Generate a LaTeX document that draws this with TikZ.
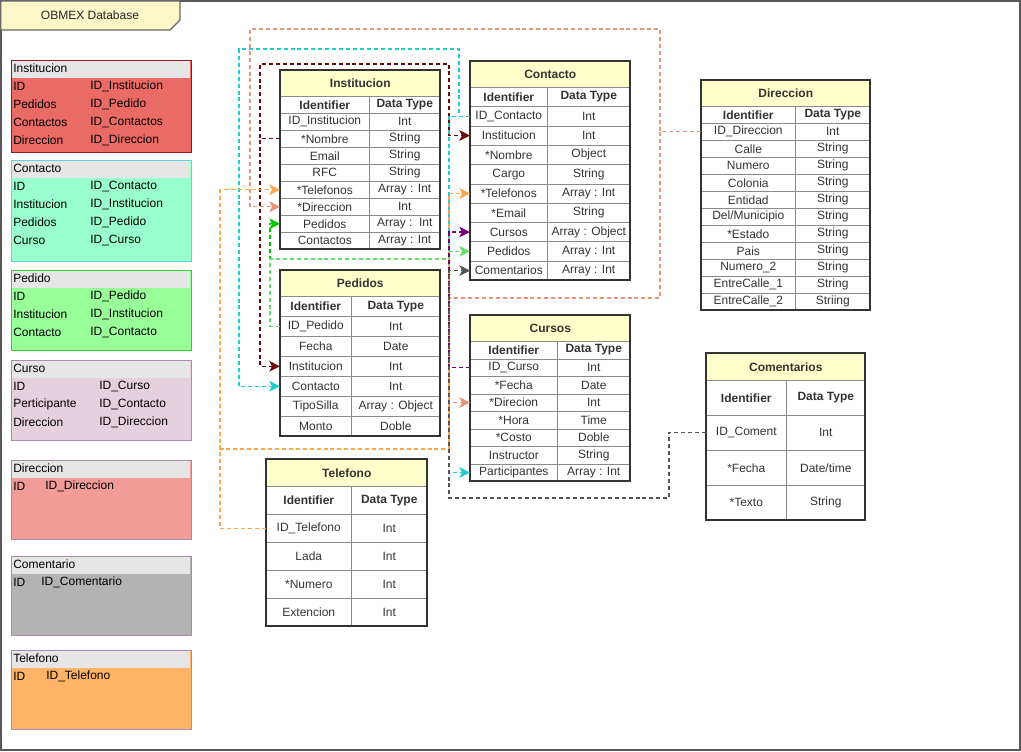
\documentclass[tikz,border=0pt]{standalone}
\usepackage{fontspec}
\setmainfont{Liberation Sans}
\usetikzlibrary{positioning,arrows.meta,calc}

\definecolor{tabtitle}{HTML}{FFFFCC}
\definecolor{tabline}{HTML}{333333}
\definecolor{cellline}{HTML}{8A8A8A}
\definecolor{keybar}{HTML}{E6E6E6}
\definecolor{keyred}{HTML}{EA6B66}
\definecolor{keyredln}{HTML}{8C1C1C}
\definecolor{keymint}{HTML}{99FFCC}
\definecolor{keymintln}{HTML}{5CD6D6}
\definecolor{keygreen}{HTML}{99FF99}
\definecolor{keygreenln}{HTML}{33CC33}
\definecolor{keymauve}{HTML}{E6D0DE}
\definecolor{keypink}{HTML}{F19C99}
\definecolor{keygray}{HTML}{B3B3B3}
\definecolor{keyorange}{HTML}{FFB366}
\definecolor{keypurpleln}{HTML}{A68BB5}
\definecolor{brownln}{HTML}{6A0A0A}
\definecolor{cyanln}{HTML}{22CCCC}
\definecolor{orangeln}{HTML}{FFA64D}
\definecolor{salmonln}{HTML}{E5967A}
\definecolor{greenln}{HTML}{00C800}
\definecolor{lgreenln}{HTML}{66DD66}
\definecolor{purpleln}{HTML}{770077}
\definecolor{grayln}{HTML}{555555}
\definecolor{tabfill}{HTML}{FBF7C9}

\tikzset{
  ertitle/.style={draw=tabline, fill=tabtitle, inner sep=0pt, text=tabline,
    font=\bfseries\fontsize{9}{11}\selectfont},
  ercell/.style={draw=cellline, inner sep=0pt, text=tabline,
    font=\fontsize{9}{11}\selectfont},
  erframe/.style={draw=tabline, line width=1.1pt},
  keytext/.style={anchor=west, inner sep=0pt, text=black,
    font=\fontsize{9}{11}\selectfont},
  link/.style={dash pattern=on 3pt off 2.2pt, line width=1pt},
}

% table: name, x, y, width 1, width 2, title height, row height, title, rows
\newcommand{\ertable}[9]{%
  \node[ertitle, anchor=north west, minimum width={(#4+#5)*0.75pt},
    minimum height={#6*0.75pt}] (#1) at (#2,#3) {#8};
  \foreach \ka/\kb [count=\i] in {#9}{%
    \node[ercell, anchor=north west, minimum width={#4*0.75pt},
      minimum height={#7*0.75pt}] (#1-\i-a) at ({#2},{#3+#6+(\i-1)*#7}) {\ka};
    \node[ercell, anchor=north west, minimum width={#5*0.75pt},
      minimum height={#7*0.75pt}] (#1-\i-b) at ({#2+#4},{#3+#6+(\i-1)*#7}) {\kb};
    \xdef\ernrows{\i}%
  }%
  \draw[erframe] (#2,#3) rectangle ({#2+#4+#5},{#3+#6+\ernrows*#7});
}

% legend box: name, top, bottom, fill, border, title, column 2 x, rows
\newcommand{\keybox}[8]{%
  \draw[draw=#5, fill=#4, line width=0.7pt] (11,#2) rectangle (191,#3);
  \fill[keybar] (11.5,{#2+0.5}) rectangle (190,{#2+18});
  \node[keytext] (#1) at (13,{#2+8.5}) {#6};
  \foreach \ka/\kb [count=\i] in {#8}{%
    \node[keytext] (#1-\i-a) at (13,{#2+8.5+\i*18}) {\ka};
    \node[keytext] (#1-\i-b) at (#7,{#2+8.5+\i*18}) {\kb};
  }%
}

\begin{document}
\begin{tikzpicture}[x=0.75pt, y=-0.75pt, >={Stealth[length=8pt, width=8pt, inset=2pt]}]
  \useasboundingbox (0,0) rectangle (1021,751);
  \draw[black!65, line width=1.3pt] (0.9,0.9) rectangle (1020.1,750.1);
  \draw[black!60, fill=tabfill, line width=0.9pt]
    (0.9,0.9) -- (180,0.9) -- (180,20) -- (170,30) -- (0.9,30) -- cycle;
  \node[font=\fontsize{9}{11}\selectfont, text=black!85] (frametitle) at (90,15.5) {OBMEX Database};

  % legend
  \keybox{kinst}{60}{152}{keyred}{keyredln}{Institucion}{90}{ID/ID\_Institucion, Pedidos/ID\_Pedido, Contactos/ID\_Contactos, Direccion/ID\_Direccion}
  \keybox{kcont}{160}{261}{keymint}{keymintln}{Contacto}{90}{ID/ID\_Contacto, Institucion/ID\_Institucion, Pedidos/ID\_Pedido, Curso/ID\_Curso}
  \keybox{kped}{270}{350}{keygreen}{keygreenln}{Pedido}{90}{ID/ID\_Pedido, Institucion/ID\_Institucion, Contacto/ID\_Contacto}
  \keybox{kcur}{360}{440}{keymauve}{keypurpleln}{Curso}{99}{ID/ID\_Curso, Perticipante/ID\_Contacto, Direccion/ID\_Direccion}
  \keybox{kdir}{460}{539}{keypink}{keypurpleln}{Direccion}{45}{ID/ID\_Direccion}
  \keybox{kcom}{556}{635}{keygray}{keypurpleln}{Comentario}{41}{ID/ID\_Comentario}
  \keybox{ktel}{650}{729}{keyorange}{keypurpleln}{Telefono}{46}{ID/ID\_Telefono}

  % tables
  \ertable{inst}{280}{70}{89}{71}{26}{17}{Institucion}{\textbf{Identifier}/\textbf{Data Type}, ID\_Institucion/Int, *Nombre/String, Email/String, RFC/String, *Telefonos/Array : Int, *Direccion/Int, Pedidos/Array :\ \ Int, Contactos/Array : Int}
  \ertable{cont}{470}{61}{77}{83}{26}{19.3}{Contacto}{\textbf{Identifier}/\textbf{Data Type}, ID\_Contacto/Int, Institucion/Int, *Nombre/Object, Cargo/String, *Telefonos/Array : Int, *Email/String, Cursos/Array : Object, Pedidos/Array : Int, Comentarios/Array : Int}
  \ertable{dir}{701}{80}{94}{75}{26}{17}{Direccion}{\textbf{Identifier}/\textbf{Data Type}, ID\_Direccion/Int, Calle/String, Numero/String, Colonia/String, Entidad/String, {Del/Municipio}/String, *Estado/String, Pais/String, Numero\_2/String, EntreCalle\_1/String, EntreCalle\_2/Striing}
  \ertable{ped}{280}{270}{71}{89}{26}{20}{Pedidos}{\textbf{Identifier}/\textbf{Data Type}, ID\_Pedido/Int, Fecha/Date, Institucion/Int, Contacto/Int, TipoSilla/Array : Object, Monto/Doble}
  \ertable{cur}{470}{315}{87}{73}{26}{17.5}{Cursos}{\textbf{Identifier}/\textbf{Data Type}, ID\_Curso/Int, *Fecha/Date, *Direcion/Int, *Hora/Time, *Costo/Doble, Instructor/String, Participantes/Array : Int}
  \ertable{tel}{266}{459}{85}{76}{27}{28}{Telefono}{\textbf{Identifier}/\textbf{Data Type}, ID\_Telefono/Int, Lada/Int, *Numero/Int, Extencion/Int}
  \ertable{com}{706}{353}{80}{79}{27}{35}{Comentarios}{\textbf{Identifier}/\textbf{Data Type}, ID\_Coment/Int, *Fecha/{Date/time}, *Texto/String}

  % routing lanes
  \coordinate (lane) at (449,0);
  \coordinate (brownTL) at (260,64);
  \coordinate (brownTR) at (449,64);
  \coordinate (cyanTL) at (239,49);
  \coordinate (cyanTR) at (459,49);
  \coordinate (salTL) at (250,29);
  \coordinate (salTR) at (660,29);
  \coordinate (salBR) at (660,298);
  \coordinate (salBL) at (449,298);
  \coordinate (oraBL) at (220,449);
  \coordinate (oraBR) at (449,449);
  \coordinate (grnL) at (270,259);
  \coordinate (grnR) at (449,259);
  \coordinate (grayR) at (669,498);
  \coordinate (grayL) at (449,498);

  % connectors
  \draw[link, brownln, ->] (inst-3-a.west) -| (brownTL) -- (brownTR) |- (cont-3-a.west);
  \draw[link, brownln, ->] (inst-3-a.west) -- (brownTL |- inst-3-a.west) |- (ped-4-a.west);
  \draw[link, cyanln, ->] (cont-2-a.west) -| (cyanTR) -- (cyanTL) |- (ped-5-a.west);
  \draw[link, cyanln, ->] (cont-2-a.west) -- (lane |- cont-2-a.west) |- (cur-8-a.west);
  \draw[link, orangeln, ->] (tel-2-a.west) -| (oraBL) |- (inst-6-a.west);
  \draw[link, orangeln, ->] (tel-2-a.west) -| (oraBL) -- (oraBR) |- (cont-6-a.west);
  \draw[link, salmonln, ->] (dir-2-a.west) -| (salTR) -- (salTL) |- (inst-7-a.west);
  \draw[link, salmonln, ->] (dir-2-a.west) -| (salBR) -- (salBL) |- (cur-4-a.west);
  \draw[link, greenln, ->] (ped-2-a.west) -| (grnL) |- (inst-8-a.west);
  \draw[link, lgreenln, ->] (ped-2-a.west) -| (grnL) -- (grnR) |- (cont-9-a.west);
  \draw[link, purpleln, ->] (cur-2-a.west) -- (lane |- cur-2-a.west) |- (cont-8-a.west);
  \draw[link, grayln, ->] (com-2-a.west) -| (grayR) -- (grayL) |- (cont-10-a.west);
\end{tikzpicture}
\end{document}
